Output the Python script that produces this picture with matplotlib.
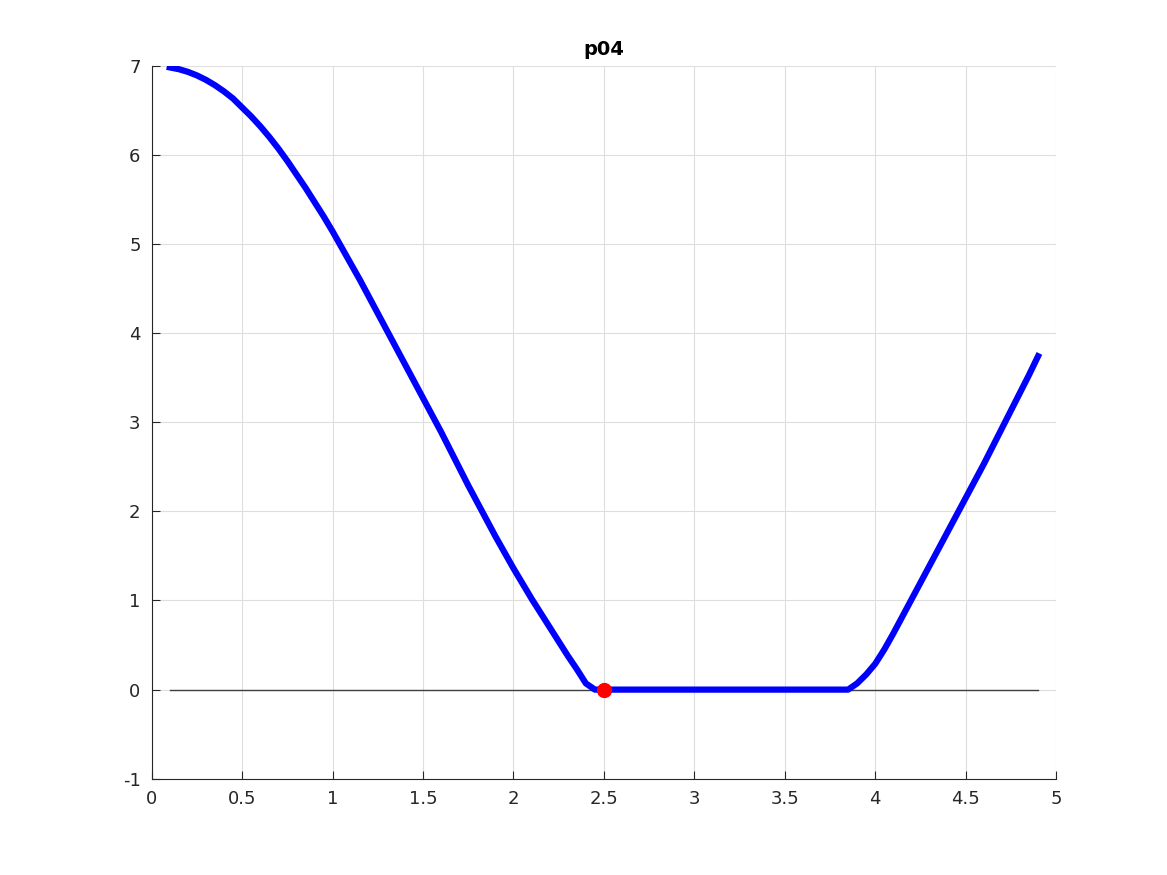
import numpy as np
import matplotlib
matplotlib.use("Agg")
import matplotlib.pyplot as plt

plt.rcParams['axes.unicode_minus'] = False

# curve values (step 0.05 on the curved parts)
x_left = [0.10, 0.15, 0.20, 0.25, 0.30, 0.35, 0.40, 0.45, 0.50, 0.55,
          0.60, 0.65, 0.70, 0.75, 0.80, 0.85, 0.90, 0.95, 1.00, 1.05,
          1.10, 1.15, 1.20, 1.25, 1.30, 1.35, 1.40, 1.45, 1.50, 1.55,
          1.60, 1.65, 1.70, 1.75, 1.80, 1.85, 1.90, 1.95, 2.00, 2.05,
          2.10, 2.15, 2.20, 2.25, 2.30, 2.35, 2.40]
y_left = [6.98, 6.96, 6.93, 6.89, 6.84, 6.78, 6.71, 6.63, 6.53, 6.43,
          6.32, 6.20, 6.07, 5.93, 5.78, 5.63, 5.47, 5.31, 5.14, 4.96,
          4.78, 4.60, 4.41, 4.22, 4.03, 3.84, 3.65, 3.46, 3.27, 3.08,
          2.89, 2.69, 2.49, 2.29, 2.10, 1.91, 1.72, 1.54, 1.36, 1.19,
          1.02, 0.86, 0.70, 0.54, 0.38, 0.23, 0.07]
x_flat = [2.45, 2.5, 3.0, 3.5, 3.85]
y_flat = [0.0, 0.0, 0.0, 0.0, 0.0]
x_right = [3.90, 3.95, 4.00, 4.05, 4.10, 4.15, 4.20, 4.25, 4.30, 4.35,
           4.40, 4.45, 4.50, 4.55, 4.60, 4.65, 4.70, 4.75, 4.80, 4.85, 4.90]
y_right = [0.07, 0.17, 0.29, 0.45, 0.63, 0.82, 1.01, 1.20, 1.39, 1.58,
           1.77, 1.96, 2.15, 2.34, 2.53, 2.73, 2.93, 3.13, 3.33, 3.53, 3.74]
zero_x = [0.1, 4.9]
zero_y = [0, 0]
pt_x = [2.5]
pt_y = [0.0]

x = x_left + x_flat + x_right
y = y_left + y_flat + y_right

fig = plt.figure(figsize=(11.67, 8.75), dpi=100)
ax = fig.add_axes([0.13, 0.11, 0.775, 0.815])

ax.plot(zero_x, zero_y, color='0.25', lw=1, zorder=2)
ax.plot(x, y, color='blue', lw=4.5, zorder=3)
ax.plot(pt_x, pt_y, 'o', color='red', ms=10, zorder=4)

ax.set_xlim(0, 5)
ax.set_ylim(-1, 7)
ax.set_xticks(np.arange(0, 5.01, 0.5))
ax.set_xticklabels(['0', '0.5', '1', '1.5', '2', '2.5', '3', '3.5', '4', '4.5', '5'])
ax.set_yticks(range(-1, 8))
ax.grid(True, color='0.87', lw=0.8)
ax.set_axisbelow(True)
for s in ['top', 'right']:
    ax.spines[s].set_visible(False)
for s in ['left', 'bottom']:
    ax.spines[s].set_color('0.15')
ax.tick_params(direction='in', length=6, labelsize=13, colors='0.15', pad=8)
ax.set_title('p04', fontsize=14, fontweight='bold', pad=8)

fig.savefig('out.png', dpi=100)
